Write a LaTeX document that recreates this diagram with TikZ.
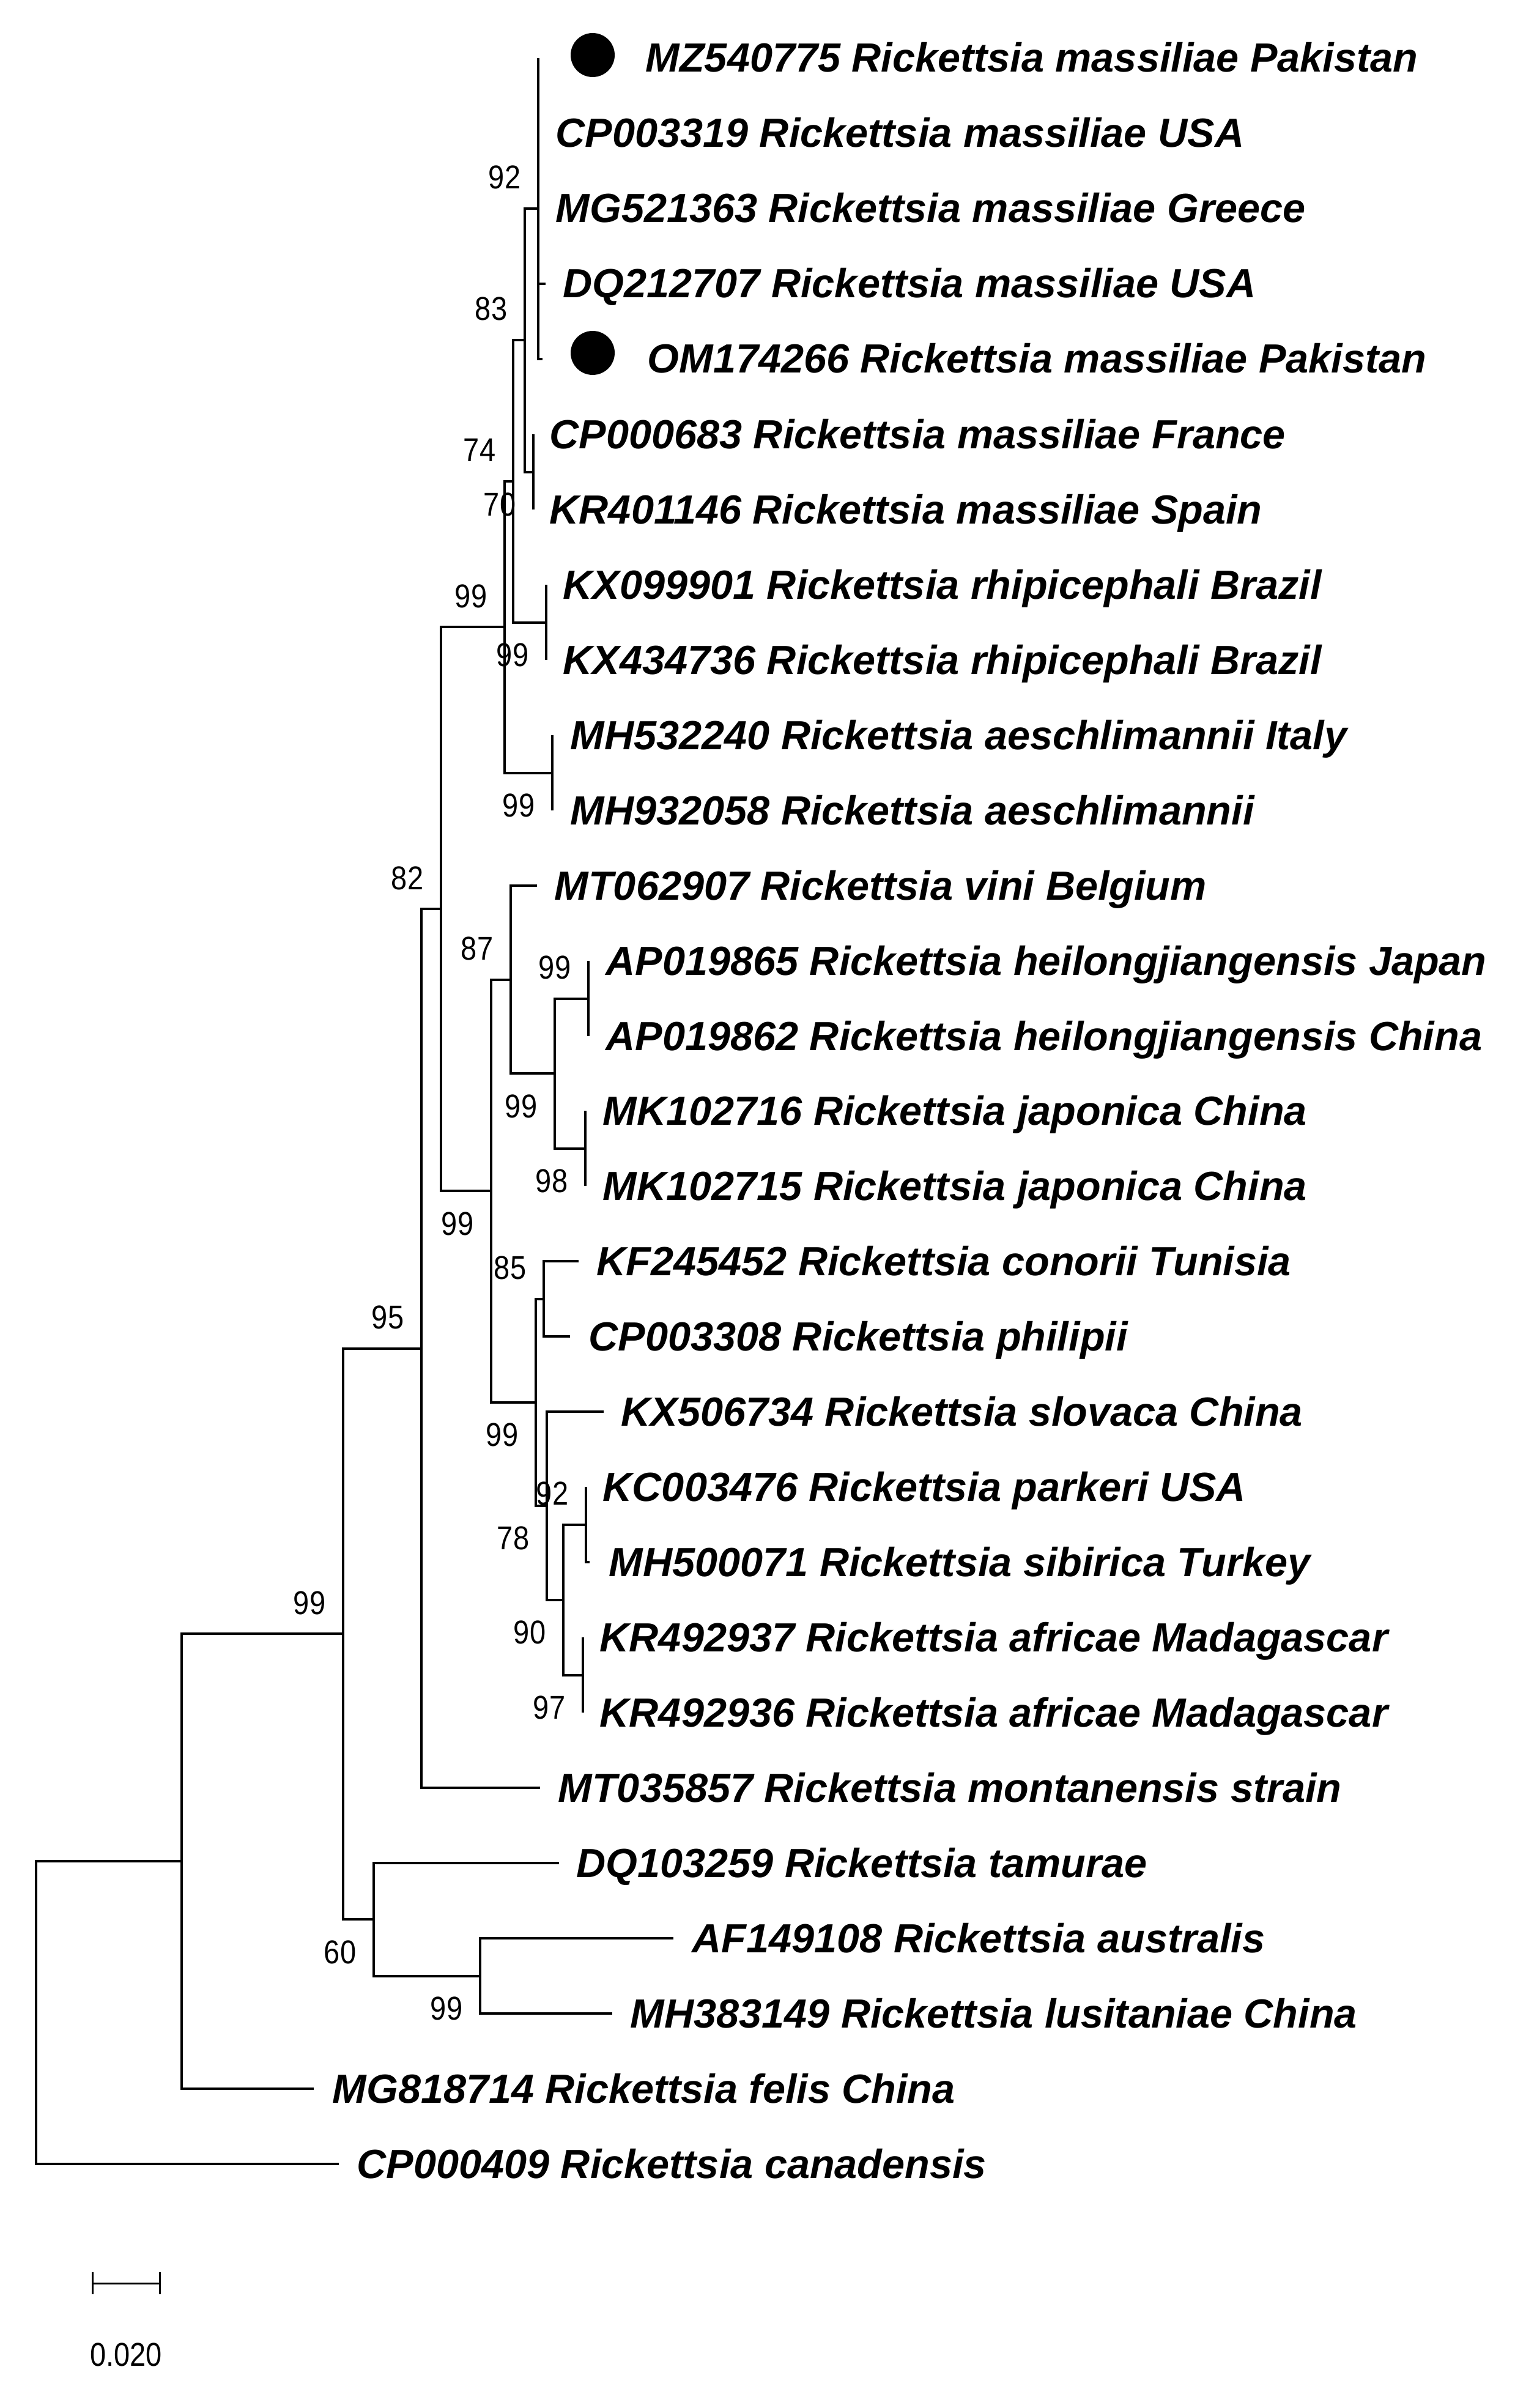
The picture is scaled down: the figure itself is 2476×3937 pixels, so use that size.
\documentclass[tikz,border=0pt]{standalone}
\usepackage{fontspec}
\setmainfont{Liberation Sans}
\newfontfamily\tipfam{Liberation Sans}
\newfontfamily\bsfam{Liberation Sans}[FakeStretch=0.87]
\begin{document}
\begin{tikzpicture}[x=0.25pt,y=-0.25pt,
  br/.style={line width=1pt,line join=miter},
  tiplab/.style={anchor=base west,inner sep=0pt,font=\tipfam\fontsize{16.65pt}{18pt}\selectfont\bfseries\itshape},
  bslab/.style={anchor=base east,inner sep=0pt,font=\bsfam\fontsize{13.5pt}{15pt}\selectfont},
  dotmark/.style={circle,fill=black,draw=none,minimum size=18pt,inner sep=0pt}]
\useasboundingbox (0,0) rectangle (2476,3937);
% tips
\coordinate (t0) at (880,95);
\coordinate (t1) at (880,218);
\coordinate (t2) at (880,341);
\coordinate (t3) at (892,464);
\coordinate (t4) at (887,587);
\coordinate (t5) at (872,710);
\coordinate (t6) at (872,833);
\coordinate (t7) at (893,956);
\coordinate (t8) at (893,1079);
\coordinate (t9) at (903,1202);
\coordinate (t10) at (903,1325);
\coordinate (t11) at (878,1448);
\coordinate (t12) at (962,1571);
\coordinate (t13) at (962,1694);
\coordinate (t14) at (957,1816);
\coordinate (t15) at (957,1939);
\coordinate (t16) at (946,2062);
\coordinate (t17) at (932,2185);
\coordinate (t18) at (987,2308);
\coordinate (t19) at (958,2431);
\coordinate (t20) at (964,2554);
\coordinate (t21) at (953,2677);
\coordinate (t22) at (953,2800);
\coordinate (t23) at (883,2923);
\coordinate (t24) at (914,3046);
\coordinate (t25) at (1101,3169);
\coordinate (t26) at (1001,3292);
\coordinate (t27) at (513,3415);
\coordinate (t28) at (554,3538);
% internal nodes
\coordinate (A) at (880,341);
\coordinate (B) at (872,771.5);
\coordinate (C) at (858,556);
\coordinate (D) at (893,1017.5);
\coordinate (E) at (839,787);
\coordinate (F) at (903,1263.5);
\coordinate (G) at (825,1025);
\coordinate (H) at (962,1632.5);
\coordinate (I) at (957,1877.5);
\coordinate (J) at (907,1755);
\coordinate (K) at (835,1601.5);
\coordinate (L) at (889,2123.5);
\coordinate (M) at (958,2492.5);
\coordinate (N) at (953,2738.5);
\coordinate (O) at (921,2615.5);
\coordinate (P) at (894,2461.75);
\coordinate (Q) at (876,2292.6);
\coordinate (R) at (803,1947);
\coordinate (S) at (721,1486);
\coordinate (T) at (689,2204.5);
\coordinate (V) at (785,3230.5);
\coordinate (U) at (611,3138);
\coordinate (W) at (561,2671);
\coordinate (X) at (297,3043);
\coordinate (root) at (59,3290.5);
% branches
\draw[br] (t0) -| (A) |- (t4);
\draw[br] (A) |- (t3);
\draw[br] (t5) -| (B) |- (t6);
\draw[br] (A) -| (C) |- (B);
\draw[br] (t7) -| (D) |- (t8);
\draw[br] (C) -| (E) |- (D);
\draw[br] (t9) -| (F) |- (t10);
\draw[br] (E) -| (G) |- (F);
\draw[br] (t12) -| (H) |- (t13);
\draw[br] (t14) -| (I) |- (t15);
\draw[br] (H) -| (J) |- (I);
\draw[br] (t11) -| (K) |- (J);
\draw[br] (t16) -| (L) |- (t17);
\draw[br] (t19) -| (M) |- (t20);
\draw[br] (t21) -| (N) |- (t22);
\draw[br] (M) -| (O) |- (N);
\draw[br] (t18) -| (P) |- (O);
\draw[br] (L) -| (Q) |- (P);
\draw[br] (K) -| (R) |- (Q);
\draw[br] (G) -| (S) |- (R);
\draw[br] (S) -| (T) |- (t23);
\draw[br] (t25) -| (V) |- (t26);
\draw[br] (t24) -| (U) |- (V);
\draw[br] (T) -| (W) |- (U);
\draw[br] (W) -| (X) |- (t27);
\draw[br] (X) -| (root) |- (t28);
% dots
\node[dotmark] (d0) at (969,90) {};
\node[dotmark] (d4) at (969,577) {};
% tip labels
\node[tiplab] (l0) at (1055,118) {MZ540775 Rickettsia massiliae Pakistan};
\node[tiplab] (l1) at (908,241) {CP003319 Rickettsia massiliae USA};
\node[tiplab] (l2) at (908,364) {MG521363 Rickettsia massiliae Greece};
\node[tiplab] (l3) at (920,487) {DQ212707 Rickettsia massiliae USA};
\node[tiplab] (l4) at (1058,610) {OM174266 Rickettsia massiliae Pakistan};
\node[tiplab] (l5) at (898,733) {CP000683 Rickettsia massiliae France};
\node[tiplab] (l6) at (898,856) {KR401146 Rickettsia massiliae Spain};
\node[tiplab] (l7) at (920,979) {KX099901 Rickettsia rhipicephali Brazil};
\node[tiplab] (l8) at (920,1102) {KX434736 Rickettsia rhipicephali Brazil};
\node[tiplab] (l9) at (932,1225) {MH532240 Rickettsia aeschlimannii Italy};
\node[tiplab] (l10) at (932,1348) {MH932058 Rickettsia aeschlimannii};
\node[tiplab] (l11) at (906,1471) {MT062907 Rickettsia vini Belgium};
\node[tiplab] (l12) at (990,1594) {AP019865 Rickettsia heilongjiangensis Japan};
\node[tiplab] (l13) at (990,1717) {AP019862 Rickettsia heilongjiangensis China};
\node[tiplab] (l14) at (985,1839) {MK102716 Rickettsia japonica China};
\node[tiplab] (l15) at (985,1962) {MK102715 Rickettsia japonica China};
\node[tiplab] (l16) at (975,2085) {KF245452 Rickettsia conorii Tunisia};
\node[tiplab] (l17) at (962,2208) {CP003308 Rickettsia philipii};
\node[tiplab] (l18) at (1015,2331) {KX506734 Rickettsia slovaca China};
\node[tiplab] (l19) at (985,2454) {KC003476 Rickettsia parkeri USA};
\node[tiplab] (l20) at (995,2577) {MH500071 Rickettsia sibirica Turkey};
\node[tiplab] (l21) at (980,2700) {KR492937 Rickettsia africae Madagascar};
\node[tiplab] (l22) at (980,2823) {KR492936 Rickettsia africae Madagascar};
\node[tiplab] (l23) at (912,2946) {MT035857 Rickettsia montanensis strain};
\node[tiplab] (l24) at (942,3069) {DQ103259 Rickettsia tamurae};
\node[tiplab] (l25) at (1131,3192) {AF149108 Rickettsia australis};
\node[tiplab] (l26) at (1030,3315) {MH383149 Rickettsia lusitaniae China};
\node[tiplab] (l27) at (543,3438) {MG818714 Rickettsia felis China};
\node[tiplab] (l28) at (583,3561) {CP000409 Rickettsia canadensis};
% bootstrap values
\node[bslab] (bA) at (852,309) {92};
\node[bslab] (bC) at (830,524) {83};
\node[bslab] (bE) at (811,755) {74};
\node[bslab] (bB) at (844,843.5) {70};
\node[bslab] (bG) at (797,993) {99};
\node[bslab] (bD) at (865,1089.5) {99};
\node[bslab] (bF) at (875,1335.5) {99};
\node[bslab] (bS) at (693,1454) {82};
\node[bslab] (bK) at (807,1569.5) {87};
\node[bslab] (bH) at (934,1600.5) {99};
\node[bslab] (bJ) at (879,1827) {99};
\node[bslab] (bI) at (929,1949.5) {98};
\node[bslab] (bR) at (775,2019) {99};
\node[bslab] (bL) at (861,2091.5) {85};
\node[bslab] (bQ) at (848,2364.6) {99};
\node[bslab] (bM) at (930,2460.5) {92};
\node[bslab] (bP) at (866,2533.75) {78};
\node[bslab] (bO) at (893,2687.5) {90};
\node[bslab] (bN) at (925,2810.5) {97};
\node[bslab] (bT) at (661,2172.5) {95};
\node[bslab] (bW) at (533,2639) {99};
\node[bslab] (bU) at (583,3210) {60};
\node[bslab] (bV) at (757,3302.5) {99};
% scale bar
\coordinate (s1) at (151,3733);
\coordinate (s2) at (261,3733);
\draw[line width=0.75pt] (s1) -- (s2);
\draw[line width=0.75pt] ([yshift=4.5pt]s1) -- ([yshift=-4.5pt]s1);
\draw[line width=0.75pt] ([yshift=4.5pt]s2) -- ([yshift=-4.5pt]s2);
\node[bslab,anchor=base] (sl) at (206,3868) {0.020};
\end{tikzpicture}
\end{document}
